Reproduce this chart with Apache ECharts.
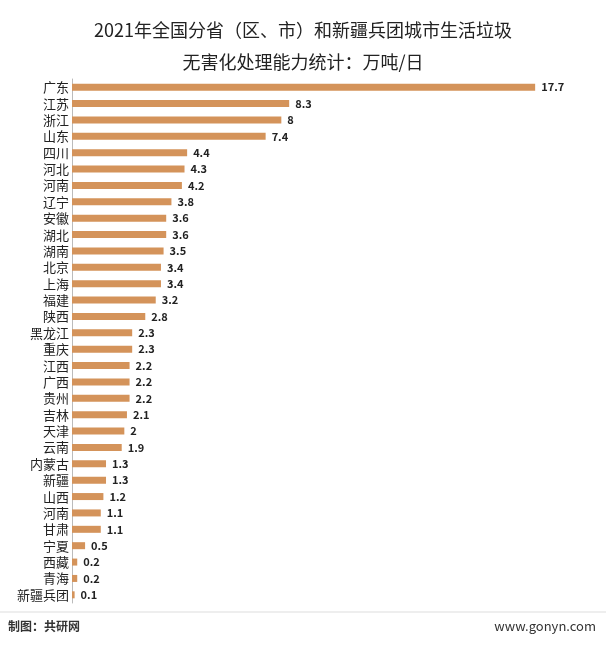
<!DOCTYPE html>
<html><head><meta charset="utf-8">
<script src="https://cdn.jsdelivr.net/npm/echarts@6/dist/echarts.min.js"></script>
<style>html,body{margin:0;background:#fff}#chart{width:606px;height:646px}</style>
</head><body><div id="chart"></div>
<script>
var provinces = ['广东','江苏','浙江','山东','四川','河北','河南','辽宁','安徽','湖北','湖南','北京','上海','福建','陕西','黑龙江','重庆','江西','广西','贵州','吉林','天津','云南','内蒙古','新疆','山西','河南','甘肃','宁夏','西藏','青海','新疆兵团'];
var capacity = [17.7,8.3,8,7.4,4.4,4.3,4.2,3.8,3.6,3.6,3.5,3.4,3.4,3.2,2.8,2.3,2.3,2.2,2.2,2.2,2.1,2,1.9,1.3,1.3,1.2,1.1,1.1,0.5,0.2,0.2,0.1];

var chart = echarts.init(document.getElementById('chart'));
var font = '"Noto Sans CJK SC", sans-serif';
chart.setOption({
    animation: false,
    title: {
        text: '2021年全国分省（区、市）和新疆兵团城市生活垃圾\n无害化处理能力统计：万吨/日',
        left: 'center', top: 9,
        textStyle: {fontFamily: font, fontSize: 18, fontWeight: 'normal', color: '#222', lineHeight: 32}
    },
    grid: {left: 72, right: 63, top: 79, bottom: 43},
    xAxis: {type: 'value', min: 0, max: 18, show: false},
    yAxis: {
        type: 'category', inverse: true, data: provinces,
        axisLine: {lineStyle: {color: '#bbb'}},
        axisTick: {show: false},
        axisLabel: {interval: 0, fontFamily: font, fontSize: 13, color: '#222', margin: 3}
    },
    series: [{
        type: 'bar', data: capacity, barWidth: 7,
        itemStyle: {color: '#D4935A'},
        label: {show: true, position: 'right', distance: 6, fontFamily: font, fontSize: 11, fontWeight: 'bold', color: '#222'}
    }],
    graphic: [
        {type: 'line', shape: {x1: 0, y1: 612, x2: 606, y2: 612}, style: {stroke: '#ddd', lineWidth: 1}},
        {type: 'text', left: 8, top: 620, style: {text: '制图：共研网', font: 'bold 12px ' + font, fill: '#333'}},
        {type: 'text', right: 10, top: 620, style: {text: 'www.gonyn.com', font: '13px ' + font, fill: '#333'}}
    ]
});
</script></body></html>
